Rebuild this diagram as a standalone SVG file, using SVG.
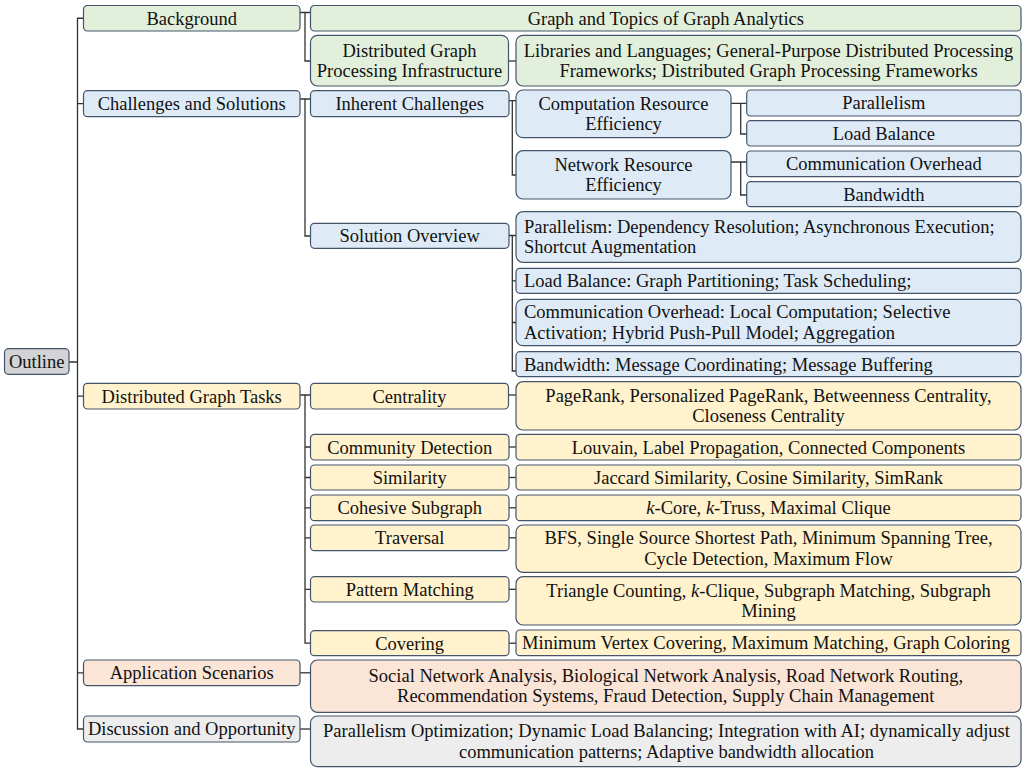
<svg xmlns="http://www.w3.org/2000/svg" width="1029" height="768" viewBox="0 0 1029 768">
<style>
text{font-family:"Liberation Serif","Times New Roman",serif;font-size:18.5px;fill:#111;}
.c{text-anchor:middle;}
.l{text-anchor:start;}
.n rect{stroke:#44546a;stroke-width:1.2;}
.g{fill:#e2efda;}
.b{fill:#deebf7;}
.y{fill:#fff2cc;}
.p{fill:#fbe5d6;}
.e{fill:#ededed;}
.o{fill:#d3d3d6;}
.k{font-style:italic;}
#connectors path{fill:none;stroke:#333;stroke-width:1.3;}
</style>
<g id="connectors">
<path d="M69 362 H77.5 M83.5 18.25 H77.5 V729 H83.5 M77.5 103.7 H83.5 M77.5 396.2 H83.5 M77.5 672.8 H83.5"/>
<path d="M300 12.5 H310.5 M305 12.5 V61 H310.5"/>
<path d="M300 99 H310.5 M305 99 V236 H310.5"/>
<path d="M300 395 H310.5 M305 395 V643.2 H310.5 M305 447 H310.5 M305 477.5 H310.5 M305 507.8 H310.5 M305 537.8 H310.5 M305 589.3 H310.5"/>
<path d="M300 672.8 H310.5"/>
<path d="M300 729 H310.5"/>
<path d="M508.5 61 H516"/>
<path d="M509 100.7 H516 M512.3 100.7 V175 H516"/>
<path d="M509 235.5 H516 M512.3 235.5 V371 H516 M512.3 280.8 H516 M512.3 322.5 H516"/>
<path d="M508.5 395 H516"/>
<path d="M509 447 H516"/>
<path d="M509 477.5 H516"/>
<path d="M509 507.8 H516"/>
<path d="M509 537.8 H516"/>
<path d="M509 589.3 H516"/>
<path d="M509 643.2 H516"/>
<path d="M731 103.3 H746.7 M740.7 103.3 V134 H746.7"/>
<path d="M731 162 H746.7 M740.7 162 V195 H746.7"/>
</g>

<g class="n" id="outline"><rect class="o" x="4.5" y="348.7" width="64.5" height="25.6" rx="4"/><text class="c" x="36.7" y="367.8">Outline</text></g>

<g class="n" id="background"><rect class="g" x="83.5" y="5.5" width="216.5" height="25.5" rx="4"/><text class="c" x="191.7" y="24.5">Background</text></g>
<g class="n" id="challenges"><rect class="b" x="83.5" y="90.7" width="216.5" height="26" rx="4"/><text class="c" x="191.7" y="110">Challenges and Solutions</text></g>
<g class="n" id="tasks"><rect class="y" x="83.5" y="383.3" width="216.5" height="25.7" rx="4"/><text class="c" x="191.7" y="402.5">Distributed Graph Tasks</text></g>
<g class="n" id="applications"><rect class="p" x="83.5" y="660" width="216.5" height="25.7" rx="4"/><text class="c" x="191.7" y="679.1">Application Scenarios</text></g>
<g class="n" id="discussion"><rect class="e" x="83.5" y="716" width="216.5" height="26" rx="4"/><text class="c" x="191.7" y="735.3">Discussion and Opportunity</text></g>

<g class="n" id="graph-topics"><rect class="g" x="310.5" y="5.5" width="710.5" height="25.5" rx="4"/><text class="c" x="665.8" y="24.5">Graph and Topics of Graph Analytics</text></g>
<g class="n" id="infrastructure"><rect class="g" x="310.5" y="35.3" width="198" height="50.7" rx="7"/><text class="c" x="409.5" y="56.5">Distributed Graph</text><text class="c" x="409.5" y="77">Processing Infrastructure</text></g>
<g class="n" id="libraries"><rect class="g" x="516" y="35.3" width="505" height="50.7" rx="7"/><text class="c" x="768.5" y="56.5">Libraries and Languages; General-Purpose Distributed Processing</text><text class="c" x="768.5" y="77">Frameworks; Distributed Graph Processing Frameworks</text></g>

<g class="n" id="inherent"><rect class="b" x="310.5" y="90.7" width="198.5" height="26" rx="4"/><text class="c" x="409.7" y="110">Inherent Challenges</text></g>
<g class="n" id="computation"><rect class="b" x="516" y="90" width="215" height="47.7" rx="7"/><text class="c" x="623.5" y="109.6">Computation Resource</text><text class="c" x="623.5" y="130.1">Efficiency</text></g>
<g class="n" id="network"><rect class="b" x="516" y="150.7" width="215" height="48.3" rx="7"/><text class="c" x="623.5" y="170.6">Network Resource</text><text class="c" x="623.5" y="191.1">Efficiency</text></g>
<g class="n" id="parallelism"><rect class="b" x="746.7" y="90" width="274.3" height="26" rx="4"/><text class="c" x="883.8" y="109.3">Parallelism</text></g>
<g class="n" id="load-balance"><rect class="b" x="746.7" y="120.7" width="274.3" height="25.3" rx="4"/><text class="c" x="883.8" y="139.7">Load Balance</text></g>
<g class="n" id="comm-overhead"><rect class="b" x="746.7" y="151" width="274.3" height="25.7" rx="4"/><text class="c" x="883.8" y="170.2">Communication Overhead</text></g>
<g class="n" id="bandwidth"><rect class="b" x="746.7" y="181.7" width="274.3" height="25" rx="4"/><text class="c" x="883.8" y="200.5">Bandwidth</text></g>

<g class="n" id="solution"><rect class="b" x="310.5" y="223.3" width="198.5" height="25" rx="4"/><text class="c" x="409.7" y="242.1">Solution Overview</text></g>
<g class="n" id="sol-parallelism"><rect class="b" x="516" y="211.7" width="505" height="50.6" rx="7"/><text class="l" x="524" y="232.8">Parallelism: Dependency Resolution; Asynchronous Execution;</text><text class="l" x="524" y="253.3">Shortcut Augmentation</text></g>
<g class="n" id="sol-load"><rect class="b" x="516" y="268.3" width="505" height="25" rx="4"/><text class="l" x="524" y="287.1">Load Balance: Graph Partitioning; Task Scheduling;</text></g>
<g class="n" id="sol-comm"><rect class="b" x="516" y="299.3" width="505" height="46.4" rx="7"/><text class="l" x="524" y="318.3">Communication Overhead: Local Computation; Selective</text><text class="l" x="524" y="338.8">Activation; Hybrid Push-Pull Model; Aggregation</text></g>
<g class="n" id="sol-bandwidth"><rect class="b" x="516" y="351.7" width="505" height="25" rx="4"/><text class="l" x="524" y="370.5">Bandwidth: Message Coordinating; Message Buffering</text></g>

<g class="n" id="centrality"><rect class="y" x="310.5" y="383.3" width="198" height="25.7" rx="4"/><text class="c" x="409.5" y="402.5">Centrality</text></g>
<g class="n" id="centrality-d"><rect class="y" x="516" y="381.7" width="505" height="48.3" rx="7"/><text class="c" x="768.5" y="401.6">PageRank, Personalized PageRank, Betweenness Centrality,</text><text class="c" x="768.5" y="422.1">Closeness Centrality</text></g>
<g class="n" id="community"><rect class="y" x="310.5" y="434.3" width="198.5" height="25.7" rx="4"/><text class="c" x="409.7" y="453.5">Community Detection</text></g>
<g class="n" id="community-d"><rect class="y" x="516" y="434.3" width="505" height="25.7" rx="4"/><text class="c" x="768.5" y="453.5">Louvain, Label Propagation, Connected Components</text></g>
<g class="n" id="similarity"><rect class="y" x="310.5" y="465" width="198.5" height="25" rx="4"/><text class="c" x="409.7" y="483.8">Similarity</text></g>
<g class="n" id="similarity-d"><rect class="y" x="516" y="465" width="505" height="25" rx="4"/><text class="c" x="768.5" y="483.8">Jaccard Similarity, Cosine Similarity, SimRank</text></g>
<g class="n" id="cohesive"><rect class="y" x="310.5" y="495" width="198.5" height="25.7" rx="4"/><text class="c" x="409.7" y="514.2">Cohesive Subgraph</text></g>
<g class="n" id="cohesive-d"><rect class="y" x="516" y="495" width="505" height="25.7" rx="4"/><text class="c" x="768.5" y="514.2"><tspan class="k">k</tspan>-Core, <tspan class="k">k</tspan>-Truss, Maximal Clique</text></g>
<g class="n" id="traversal"><rect class="y" x="310.5" y="525" width="198.5" height="25.7" rx="4"/><text class="c" x="409.7" y="544.2">Traversal</text></g>
<g class="n" id="traversal-d"><rect class="y" x="516" y="525" width="505" height="47.3" rx="7"/><text class="c" x="768.5" y="544.4">BFS, Single Source Shortest Path, Minimum Spanning Tree,</text><text class="c" x="768.5" y="564.9">Cycle Detection, Maximum Flow</text></g>
<g class="n" id="pattern"><rect class="y" x="310.5" y="576.7" width="198.5" height="25.3" rx="4"/><text class="c" x="409.7" y="595.7">Pattern Matching</text></g>
<g class="n" id="pattern-d"><rect class="y" x="516" y="576.7" width="505" height="48.3" rx="7"/><text class="c" x="768.5" y="596.6">Triangle Counting, <tspan class="k">k</tspan>-Clique, Subgraph Matching, Subgraph</text><text class="c" x="768.5" y="617.1">Mining</text></g>
<g class="n" id="covering"><rect class="y" x="310.5" y="630.7" width="198.5" height="25" rx="4"/><text class="c" x="409.7" y="649.5">Covering</text></g>
<g class="n" id="covering-d"><rect class="y" x="516" y="630" width="505" height="25.7" rx="4"/><text class="c" x="766" y="649.2">Minimum Vertex Covering, Maximum Matching, Graph Coloring</text></g>

<g class="n" id="applications-d"><rect class="p" x="310.5" y="660" width="710.5" height="52.3" rx="7"/><text class="c" x="665.8" y="681.9">Social Network Analysis, Biological Network Analysis, Road Network Routing,</text><text class="c" x="665.8" y="702.4">Recommendation Systems, Fraud Detection, Supply Chain Management</text></g>
<g class="n" id="discussion-d"><rect class="e" x="310.5" y="716" width="710.5" height="50.7" rx="7"/><text class="c" x="666.5" y="737.1">Parallelism Optimization; Dynamic Load Balancing; Integration with AI; dynamically adjust</text><text class="c" x="666.5" y="757.6">communication patterns; Adaptive bandwidth allocation</text></g>
</svg>
